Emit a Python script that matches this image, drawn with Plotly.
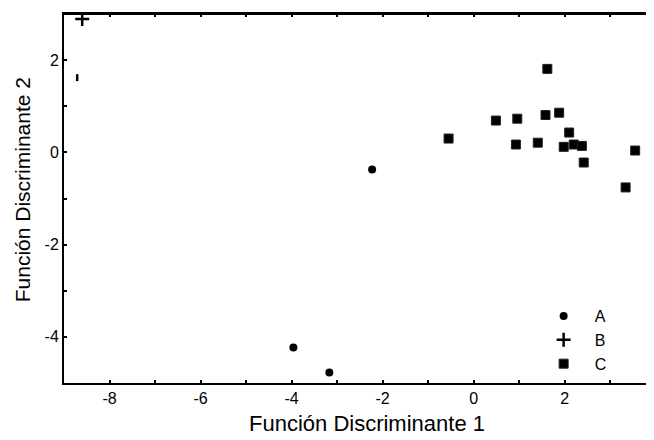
import plotly.graph_objects as go

# Group A (circles)
a_x = [-2.23, -3.96, -3.17]
a_y = [-0.37, -4.23, -4.77]
# Group B (plus)
b_x = [-8.60]
b_y = [2.89]
# Extra short vertical mark (group B, partially drawn)
b2_x = [-8.71]
b2_y = [1.62]
# Group C (squares)
c_x = [1.62, 0.49, 0.96, 1.58, 1.88, 2.10, 0.93, 1.41, 1.98, 2.20, 2.38, 2.42, 3.55, 3.34, -0.55]
c_y = [1.81, 0.69, 0.73, 0.81, 0.86, 0.43, 0.17, 0.21, 0.12, 0.17, 0.14, -0.22, 0.04, -0.76, 0.30]

labels = ["A", "B", "C"]
x_title = "Función Discriminante 1"
y_title = "Función Discriminante 2"
x_tickvals = [-8, -6, -4, -2, 0, 2, 4]
x_ticktext = ["-8", "-6", "-4", "-2", "0", "2", "4"]
y_tickvals = [-4, -2, 0, 2]
y_ticktext = ["-4", "-2", "0", "2"]

FONT = "Liberation Sans, Arial, sans-serif"

fig = go.Figure()
fig.add_trace(go.Scatter(x=a_x, y=a_y, mode="markers", name=labels[0],
                         marker=dict(symbol="circle", size=8, color="black")))
fig.add_trace(go.Scatter(x=b_x, y=b_y, mode="markers", name=labels[1],
                         marker=dict(symbol="cross-thin", size=10,
                                     line=dict(color="black", width=2.5), color="black")))
fig.add_trace(go.Scatter(x=b2_x, y=b2_y, mode="markers", showlegend=False,
                         marker=dict(symbol="line-ns", size=5,
                                     line=dict(color="black", width=2.5), color="black")))
fig.add_trace(go.Scatter(x=c_x, y=c_y, mode="markers", name=labels[2],
                         marker=dict(symbol="square", size=9, color="black",
                                     line=dict(color="#222", width=1))))

axis_common = dict(
    showgrid=False, zeroline=False, showline=True, linecolor="black", linewidth=2,
    mirror="ticks", ticks="inside", ticklen=3, tickwidth=1.5, tickcolor="black",
    tickfont=dict(family=FONT, size=16, color="black"),
)

fig.update_xaxes(range=[-9, 3.92], tickvals=x_tickvals, ticktext=x_ticktext,
                 minor=dict(ticks="inside", ticklen=3, dtick=1, tickcolor="black", tickwidth=1.5),
                 **axis_common)
fig.update_yaxes(range=[-5, 3], tickvals=y_tickvals, ticktext=y_ticktext,
                 minor=dict(ticks="inside", ticklen=3, dtick=1, tickcolor="black", tickwidth=1.5),
                 **axis_common)

# top frame line
fig.add_shape(type="line", xref="paper", yref="paper", x0=0, x1=1, y0=1, y1=1,
              line=dict(color="black", width=2))

# axis titles
fig.add_annotation(text=x_title, xref="paper", yref="paper", x=0.515, y=-0.111,
                   xanchor="center", yanchor="middle", showarrow=False,
                   font=dict(family=FONT, size=22, color="black"))
fig.add_annotation(text=y_title, xref="paper", yref="paper", x=-0.071, y=0.523,
                   xanchor="center", yanchor="middle", showarrow=False, textangle=-90,
                   font=dict(family=FONT, size=21, color="black"))

fig.update_layout(
    width=646, height=432,
    margin=dict(l=56, r=0, t=6, b=57),
    plot_bgcolor="white", paper_bgcolor="white",
    legend=dict(x=0.797, y=0.005, xanchor="left", yanchor="bottom",
                font=dict(family=FONT, size=16, color="black"),
                bgcolor="rgba(0,0,0,0)", tracegroupgap=0, itemwidth=52),
    font=dict(family=FONT, color="black"),
)

fig.write_html("out.html")
